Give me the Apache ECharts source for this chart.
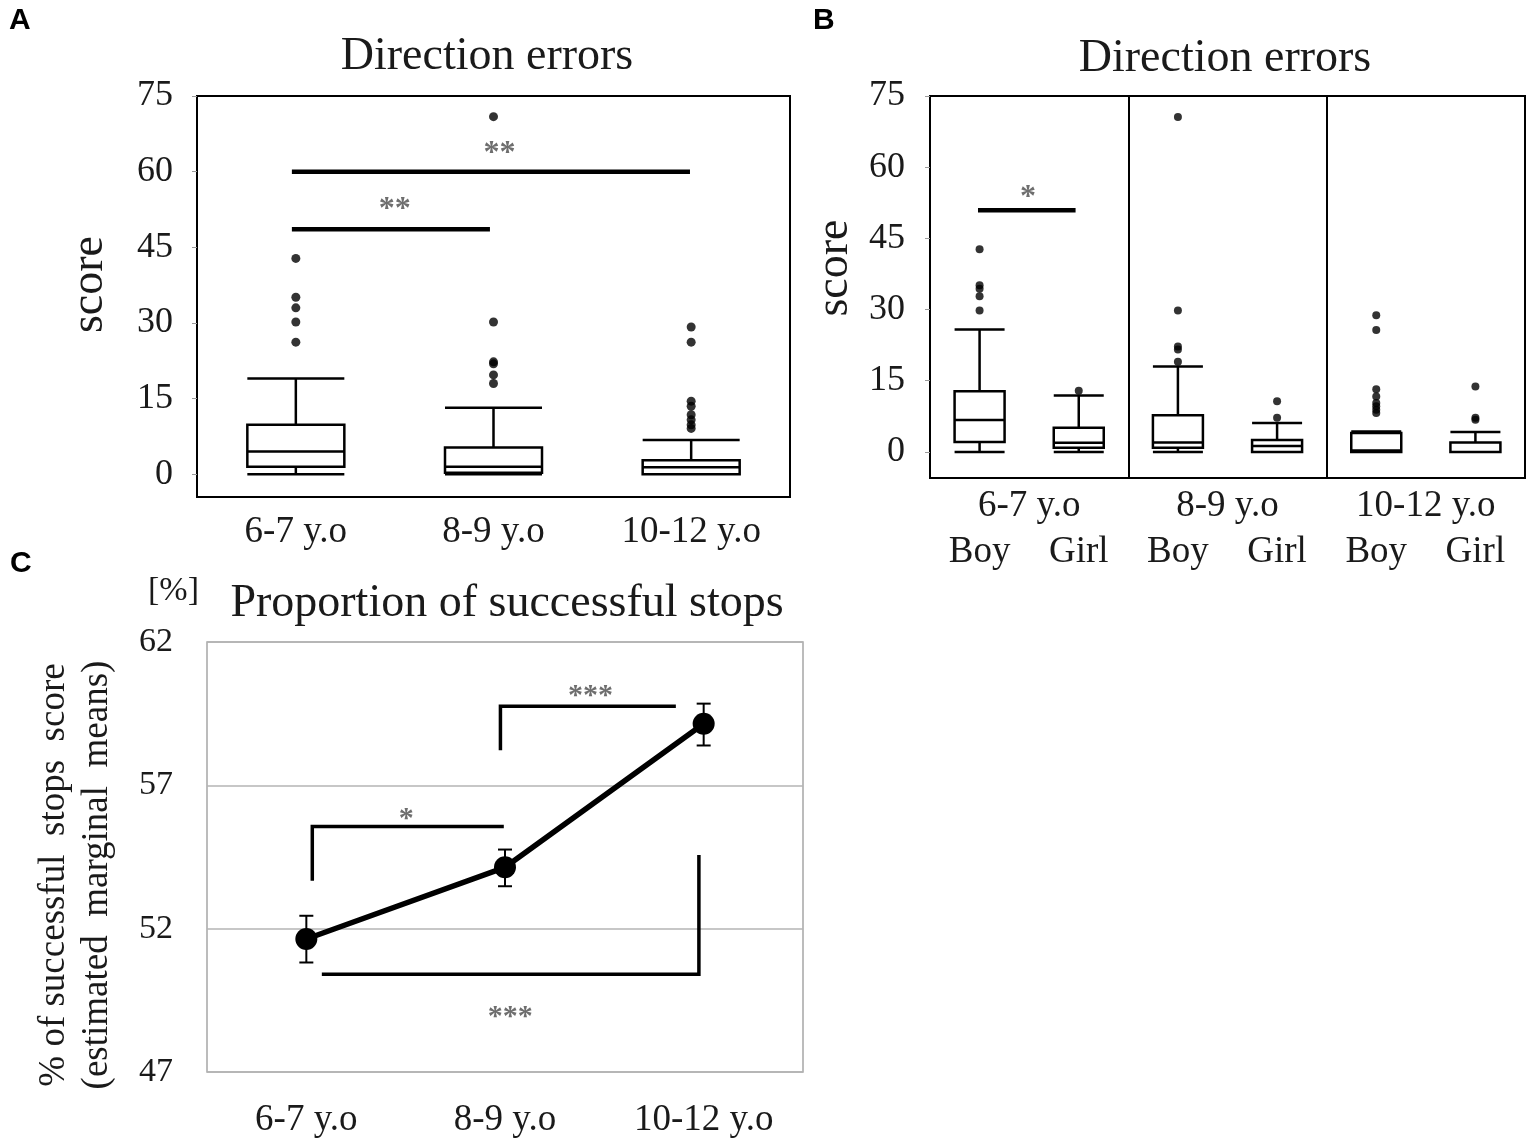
<!DOCTYPE html>
<html><head><meta charset="utf-8">
<script src="https://cdn.jsdelivr.net/npm/echarts@6/dist/echarts.min.js"></script>
<style>html,body{margin:0;padding:0;background:#fff}#chart{width:1535px;height:1144px}</style>
</head><body><div id="chart"></div>
<script>
// ---------- data ----------
const ageGroups = ['6-7 y.o', '8-9 y.o', '10-12 y.o'];
const sexGroups = ['Boy', 'Girl'];

// Panel A: direction errors by age  [min, Q1, median, Q3, max]
const boxA = [[0, 1.5, 4.5, 9.8, 19], [0, 0.3, 1.5, 5.3, 13.2], [0, 0, 1.4, 2.8, 6.8]];
const outliersA = [
  [26.2, 30.2, 33, 35.1, 42.8],
  [18, 19.7, 21.9, 22.3, 30.2, 70.9],
  [9.1, 9.8, 10.8, 11.8, 13.5, 14.5, 26.2, 29.2]
];
const ticksAB = [0, 15, 30, 45, 60, 75];
// significance bars A: [xStart, xEnd, y] (x in category-band units), labels [x, y, text]
const sigBarsA = [[0.48, 1.482, 48.6], [0.48, 2.494, 60]];
const sigTextA = [[1.0, 52.4, '**'], [1.53, 63.6, '**']];

// Panel B: direction errors by age and sex
const boxB = [
  [0, 2.1, 6.7, 12.8, 25.8],
  [0, 0.9, 1.95, 5.1, 11.9],
  [0, 0.9, 2, 7.7, 18],
  [0, 0, 1.25, 2.5, 6.1],
  [0, 0, 0.3, 4, 4.3],
  [0, 0, 0, 2, 4.2]
];
const outliersB = [
  [29.8, 32.8, 34.4, 35.1, 42.7],
  [12.9],
  [19, 21.6, 22.2, 29.8, 70.6],
  [7.2, 10.7],
  [8.2, 8.9, 9.6, 10.3, 11.7, 13.2, 25.7, 28.8],
  [6.8, 7.2, 13.8]
];
const sigBarsB = [[0.242, 0.734, 50.9]];
const sigTextB = [[0.494, 53.6, '*']];

// Panel C: proportion of successful stops (estimated marginal means)
const pctMeans = [51.64, 54.14, 59.15];
const pctLow = [50.82, 53.48, 58.39];
const pctHigh = [52.45, 54.76, 59.85];
const bracketsC = [
  [[0.53, 53.67], [0.53, 55.56], [1.494, 55.56]],
  [[1.477, 58.22], [1.477, 59.76], [2.36, 59.76]],
  [[0.578, 50.41], [2.476, 50.41], [2.476, 54.57]]
];
const sigTextC = [[1.003, 55.8, '*'], [1.93, 60.1, '***'], [1.527, 48.9, '***']];

// ---------- build ----------
const serif = '"Liberation Serif", "Times New Roman", serif';
const sans = '"Liberation Sans", Arial, sans-serif';
const txt = '#1a1a1a';

const bCats = [];
ageGroups.forEach(a => sexGroups.forEach(s => bCats.push(a + '|' + s)));

const outA = [];
outliersA.forEach((arr, i) => arr.forEach(v => outA.push([i, v])));
const outB = [];
outliersB.forEach((arr, i) => arr.forEach(v => outB.push([i, v])));
const barLines = bars => bars.map(b => ({ coords: [[b[0], b[2]], [b[1], b[2]]] }));
const errData = pctMeans.map((m, i) => [i, pctLow[i], pctHigh[i]]);

const labelStyle = { fontFamily: serif, fontSize: 37, color: txt };
const tickStyle = { fontFamily: serif, fontSize: 36, color: txt };
const titleStyle = size => ({ fontFamily: serif, fontSize: size, fontWeight: 'normal', color: txt });
const letterStyle = { fontFamily: sans, fontSize: 30, fontWeight: 'bold', color: '#000' };

function sigTextSeries(xIdx, yIdx, data, size) {
  return {
    type: 'scatter', xAxisIndex: xIdx, yAxisIndex: yIdx, symbol: 'circle', symbolSize: 0,
    data: data, silent: true,
    label: { show: true, position: 'inside', formatter: p => p.value[2],
      fontFamily: serif, fontSize: size, fontWeight: 'bold', color: '#4a4a4a' }
  };
}

const option = {
  animation: false,
  backgroundColor: '#fff',
  title: [
    { text: 'Direction errors', left: 487, top: 34, textAlign: 'center', padding: 0, textStyle: titleStyle(46) },
    { text: 'Direction errors', left: 1225, top: 36, textAlign: 'center', padding: 0, textStyle: titleStyle(46) },
    { text: 'Proportion of successful stops', left: 507, top: 581, textAlign: 'center', padding: 0, textStyle: titleStyle(46) },
    { text: '[%]', left: 148, top: 574, padding: 0, textStyle: titleStyle(34) },
    { text: 'A', left: 9, top: 6, padding: 0, textStyle: letterStyle },
    { text: 'B', left: 813, top: 6, padding: 0, textStyle: letterStyle },
    { text: 'C', left: 10, top: 549, padding: 0, textStyle: letterStyle }
  ],
  grid: [
    { left: 197, top: 96, width: 593, height: 401, show: true, borderColor: '#000', borderWidth: 2, backgroundColor: 'transparent' },
    { left: 930, top: 96, width: 595, height: 382, show: true, borderColor: '#000', borderWidth: 2, backgroundColor: 'transparent' },
    { left: 207, top: 642, width: 596, height: 430, show: true, borderColor: '#a6a6a6', borderWidth: 1.5, backgroundColor: 'transparent' }
  ],
  xAxis: [
    { gridIndex: 0, type: 'category', position: 'bottom', data: ageGroups,
      axisLine: { show: false, onZero: false }, axisTick: { show: false },
      axisLabel: Object.assign({ margin: 17, interval: 0 }, labelStyle) },
    { gridIndex: 1, type: 'category', position: 'bottom', data: bCats,
      axisLine: { show: false, onZero: false }, axisTick: { show: false },
      axisLabel: Object.assign({ margin: 56, interval: 0, formatter: v => v.split('|')[1] }, labelStyle) },
    { gridIndex: 1, type: 'category', position: 'bottom', data: ageGroups,
      axisLine: { show: false, onZero: false }, axisTick: { show: false },
      axisLabel: Object.assign({ margin: 10, interval: 0 }, labelStyle),
      splitLine: { show: true, interval: 0, lineStyle: { color: '#000', width: 2 } } },
    { gridIndex: 2, type: 'category', position: 'bottom', data: ageGroups,
      axisLine: { show: false, onZero: false }, axisTick: { show: false },
      axisLabel: Object.assign({ margin: 30, interval: 0 }, labelStyle) },
    { gridIndex: 0, type: 'value', min: 0, max: 3, show: false },
    { gridIndex: 1, type: 'value', min: 0, max: 3, show: false },
    { gridIndex: 2, type: 'value', min: 0, max: 3, show: false }
  ],
  yAxis: [
    { gridIndex: 0, type: 'value', min: -4.5, max: 75,
      name: 'score', nameLocation: 'middle', nameRotate: 90, nameGap: 84,
      nameTextStyle: { fontFamily: serif, fontSize: 46, color: txt, padding: [0, 0, 0, 24] },
      axisLine: { show: false, onZero: false },
      axisTick: { show: true, customValues: ticksAB, length: 5, lineStyle: { color: '#999' } },
      axisLabel: Object.assign({ customValues: ticksAB, margin: 24 }, tickStyle),
      splitLine: { show: false } },
    { gridIndex: 1, type: 'value', min: -5.5, max: 75,
      name: 'score', nameLocation: 'middle', nameRotate: 90, nameGap: 72,
      nameTextStyle: { fontFamily: serif, fontSize: 46, color: txt, padding: [0, 0, 0, 38] },
      axisLine: { show: false, onZero: false },
      axisTick: { show: true, customValues: ticksAB, length: 5, lineStyle: { color: '#999' } },
      axisLabel: Object.assign({ customValues: ticksAB, margin: 25 }, tickStyle),
      splitLine: { show: false } },
    { gridIndex: 2, type: 'value', min: 47, max: 62, interval: 5,
      name: '% of successful  stops  score\n(estimated  marginal  means)', nameLocation: 'middle', nameRotate: 90, nameGap: 88,
      nameTextStyle: { fontFamily: serif, fontSize: 37, color: txt, lineHeight: 43, padding: [0, 36, 0, 0] },
      axisLine: { show: false, onZero: false }, axisTick: { show: false },
      axisLabel: { fontFamily: serif, fontSize: 34, color: txt, margin: 34 },
      splitLine: { show: true, lineStyle: { color: '#b5b5b5', width: 1.5 } } }
  ],
  series: [
    { type: 'boxplot', xAxisIndex: 0, yAxisIndex: 0, data: boxA, boxWidth: [97, 97], silent: true,
      itemStyle: { color: '#fff', borderColor: '#000', borderWidth: 2.5 } },
    { type: 'scatter', xAxisIndex: 0, yAxisIndex: 0, data: outA, symbolSize: 9, silent: true,
      itemStyle: { color: '#000' } },
    { type: 'boxplot', xAxisIndex: 1, yAxisIndex: 1, data: boxB, boxWidth: [50, 50], silent: true,
      itemStyle: { color: '#fff', borderColor: '#000', borderWidth: 2.5 } },
    { type: 'scatter', xAxisIndex: 1, yAxisIndex: 1, data: outB, symbolSize: 8, silent: true,
      itemStyle: { color: '#000' } },
    { type: 'lines', coordinateSystem: 'cartesian2d', xAxisIndex: 4, yAxisIndex: 0, polyline: true, silent: true,
      data: barLines(sigBarsA), lineStyle: { color: '#000', width: 4.5, opacity: 1 } },
    sigTextSeries(4, 0, sigTextA, 32),
    { type: 'lines', coordinateSystem: 'cartesian2d', xAxisIndex: 5, yAxisIndex: 1, polyline: true, silent: true,
      data: barLines(sigBarsB), lineStyle: { color: '#000', width: 4.5, opacity: 1 } },
    sigTextSeries(5, 1, sigTextB, 32),
    { type: 'custom', xAxisIndex: 3, yAxisIndex: 2, data: errData, silent: true,
      renderItem: function (params, api) {
        const lo = api.coord([api.value(0), api.value(1)]);
        const hi = api.coord([api.value(0), api.value(2)]);
        const w = 7;
        const st = { stroke: '#000', lineWidth: 2 };
        return { type: 'group', children: [
          { type: 'line', shape: { x1: lo[0], y1: lo[1], x2: hi[0], y2: hi[1] }, style: st },
          { type: 'line', shape: { x1: lo[0] - w, y1: lo[1], x2: lo[0] + w, y2: lo[1] }, style: st },
          { type: 'line', shape: { x1: hi[0] - w, y1: hi[1], x2: hi[0] + w, y2: hi[1] }, style: st }
        ] };
      } },
    { type: 'line', xAxisIndex: 3, yAxisIndex: 2, data: pctMeans, silent: true,
      symbol: 'circle', symbolSize: 22, lineStyle: { color: '#000', width: 5.5 },
      itemStyle: { color: '#000' } },
    { type: 'lines', coordinateSystem: 'cartesian2d', xAxisIndex: 6, yAxisIndex: 2, polyline: true, silent: true,
      data: bracketsC.map(c => ({ coords: c })), lineStyle: { color: '#000', width: 3.5, opacity: 1 } },
    sigTextSeries(6, 2, sigTextC, 30)
  ]
};

const chart = echarts.init(document.getElementById('chart'));
chart.setOption(option);
</script>
</body></html>
